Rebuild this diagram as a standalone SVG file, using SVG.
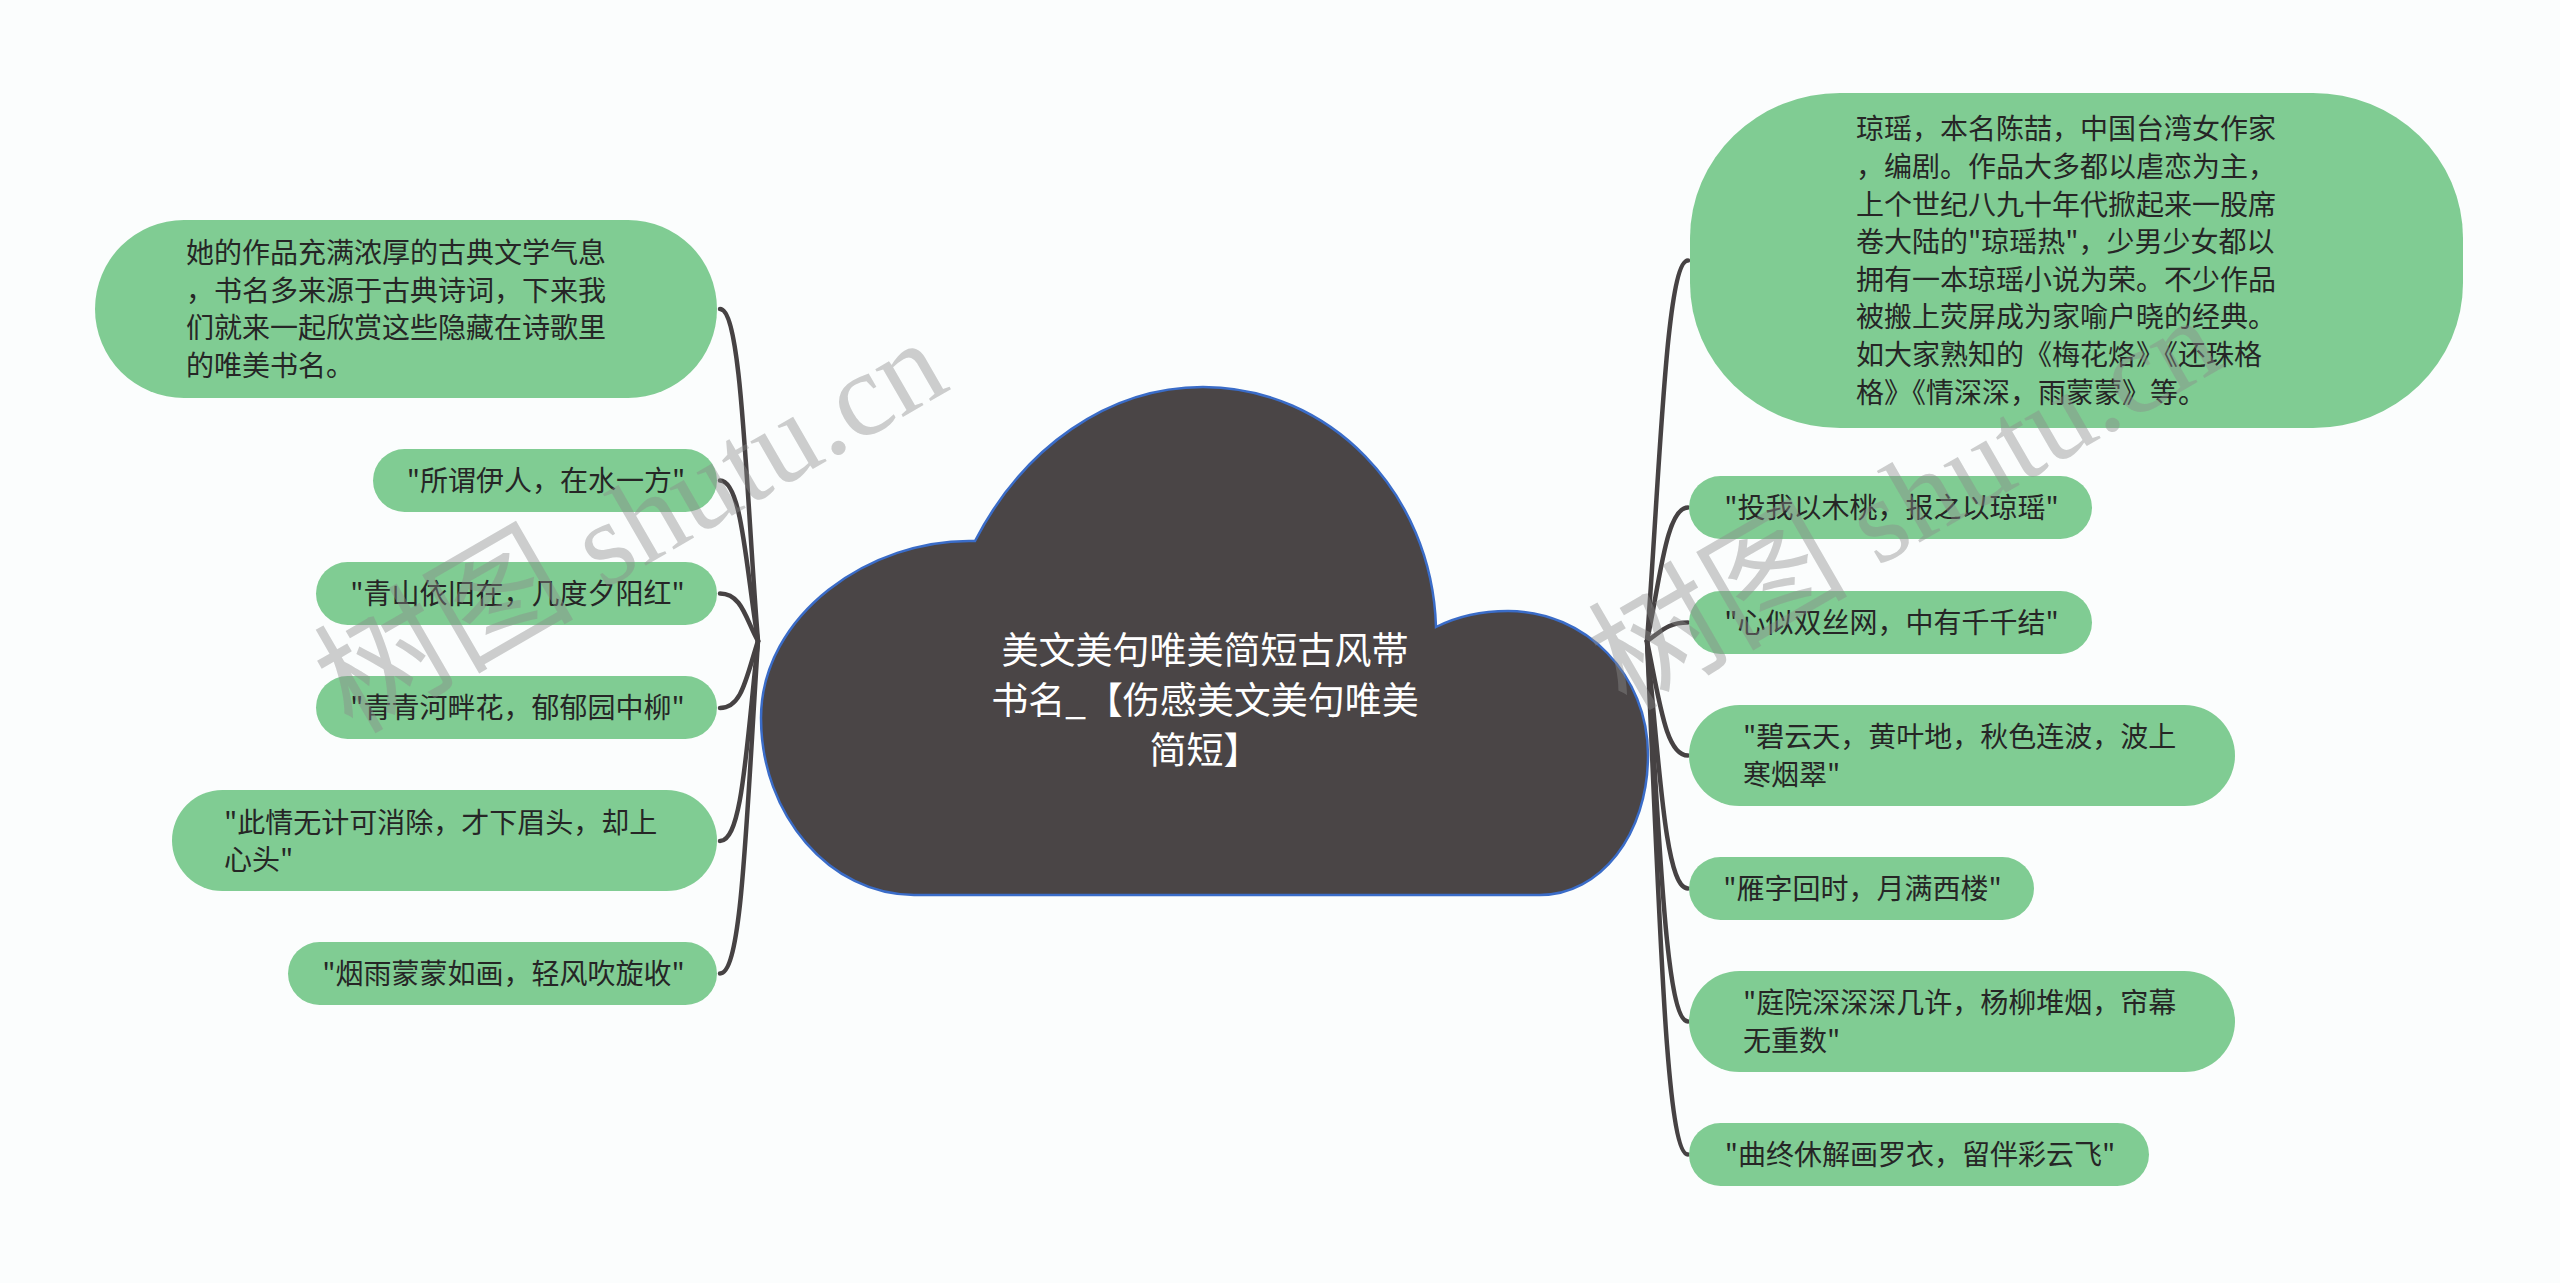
<svg xmlns="http://www.w3.org/2000/svg" width="2560" height="1283" viewBox="0 0 2560 1283">
<style>
.bg{fill:#fbfdfd}
.node{fill:#80cc93}
.t{font-family:"Noto Sans CJK SC","Noto Sans",sans-serif;font-size:28px;fill:#262626}
.c{text-anchor:middle}
.ct{font-family:"Noto Sans CJK SC","Noto Sans",sans-serif;font-size:37px;fill:#ffffff;text-anchor:middle}
.link{fill:none;stroke:#464243;stroke-width:4.5;stroke-linecap:round}
.wm{font-family:"Liberation Serif","Noto Sans CJK SC",serif;font-size:120px;fill:#8a8a8a;fill-opacity:0.42}
.wmc{font-size:130px}
</style>
<rect class="bg" x="0" y="0" width="2560" height="1283"/>

<g id="connectors">
<path class="link" d="M720 309 C742 309,746 492,758 641"/>
<path class="link" d="M720 480.5 C742 480.5,746 569,758 641"/>
<path class="link" d="M720 593.5 C742 593.5,746 620,758 641"/>
<path class="link" d="M720 708 C742 708,746 678,758 641"/>
<path class="link" d="M720 841 C742 841,746 751,758 641"/>
<path class="link" d="M720 973.5 C742 973.5,746 824,758 641"/>
<path class="link" d="M1688 260.5 C1666 260.5,1660 470,1647 641"/>
<path class="link" d="M1688 507.5 C1666 507.5,1660 581,1647 641"/>
<path class="link" d="M1688 622.5 C1666 622.5,1660 633,1647 641"/>
<path class="link" d="M1688 755.5 C1666 755.5,1660 704,1647 641"/>
<path class="link" d="M1688 888.5 C1666 888.5,1660 777,1647 641"/>
<path class="link" d="M1688 1021.5 C1666 1021.5,1660 850,1647 641"/>
<path class="link" d="M1688 1154.5 C1666 1154.5,1660 923,1647 641"/>
</g>

<g id="center">
<path d="M914 895 L1540 895 C1600 895,1648 835,1648 755 C1648 675,1586 611,1508 611 C1482 611,1456 617,1436 627 C1432 492,1329 387,1203 387 C1108 387,1023 448,975 541 C870 538,761 615,761 718 C761 815,830 895,914 895 Z" fill="#4a4546" stroke="#3a6cc8" stroke-width="2.5"/>
<text class="ct" x="1205" y="664">美文美句唯美简短古风帯</text>
<text class="ct" x="1205" y="714">书名_【伤感美文美句唯美</text>
<text class="ct" x="1205" y="764">简短】</text>
</g>

<g id="L1">
<rect class="node" x="95" y="220" width="622" height="178" rx="89"/>
<text class="t" x="186" y="263">她的作品充满浓厚的古典文学气息</text>
<text class="t" x="186" y="300.6">，书名多来源于古典诗词，下来我</text>
<text class="t" x="186" y="338.2">们就来一起欣赏这些隐藏在诗歌里</text>
<text class="t" x="186" y="375.8">的唯美书名。</text>
</g>
<g id="L2">
<rect class="node" x="373" y="449" width="344" height="63" rx="31.5"/>
<text class="t c" x="546" y="491">"所谓伊人，在水一方"</text>
</g>
<g id="L3">
<rect class="node" x="316" y="562" width="401" height="63" rx="31.5"/>
<text class="t c" x="517.5" y="604">"青山依旧在，几度夕阳红"</text>
</g>
<g id="L4">
<rect class="node" x="316" y="676" width="401" height="63" rx="31.5"/>
<text class="t c" x="517.5" y="718">"青青河畔花，郁郁园中柳"</text>
</g>
<g id="L5">
<rect class="node" x="172" y="790" width="545" height="101" rx="50.5"/>
<text class="t" x="224" y="832.7">"此情无计可消除，才下眉头，却上</text>
<text class="t" x="224" y="870.3">心头"</text>
</g>
<g id="L6">
<rect class="node" x="288" y="942" width="429" height="63" rx="31.5"/>
<text class="t c" x="503.5" y="984">"烟雨蒙蒙如画，轻风吹旋收"</text>
</g>

<g id="R1">
<rect class="node" x="1690" y="93" width="773" height="335" rx="150" ry="145"/>
<text class="t" x="1856" y="139.4">琼瑶，本名陈喆，中国台湾女作家</text>
<text class="t" x="1856" y="177">，编剧。作品大多都以虐恋为主，</text>
<text class="t" x="1856" y="214.6">上个世纪八九十年代掀起来一股席</text>
<text class="t" x="1856" y="252.2">卷大陆的"琼瑶热"，少男少女都以</text>
<text class="t" x="1856" y="289.8">拥有一本琼瑶小说为荣。不少作品</text>
<text class="t" x="1856" y="327.4">被搬上荧屏成为家喻户晓的经典。</text>
<text class="t" x="1856" y="365">如大家熟知的《梅花烙》《还珠格</text>
<text class="t" x="1856" y="402.6">格》《情深深，雨蒙蒙》等。</text>
</g>
<g id="R2">
<rect class="node" x="1689" y="476" width="403" height="63" rx="31.5"/>
<text class="t c" x="1891.5" y="518">"投我以木桃，报之以琼瑶"</text>
</g>
<g id="R3">
<rect class="node" x="1689" y="591" width="403" height="63" rx="31.5"/>
<text class="t c" x="1891.5" y="633">"心似双丝网，中有千千结"</text>
</g>
<g id="R4">
<rect class="node" x="1689" y="705" width="546" height="101" rx="50.5"/>
<text class="t" x="1743" y="747.2">"碧云天，黄叶地，秋色连波，波上</text>
<text class="t" x="1743" y="784.8">寒烟翠"</text>
</g>
<g id="R5">
<rect class="node" x="1689" y="857" width="345" height="63" rx="31.5"/>
<text class="t c" x="1862.5" y="899">"雁字回时，月满西楼"</text>
</g>
<g id="R6">
<rect class="node" x="1689" y="971" width="546" height="101" rx="50.5"/>
<text class="t" x="1743" y="1013.2">"庭院深深深几许，杨柳堆烟，帘幕</text>
<text class="t" x="1743" y="1050.8">无重数"</text>
</g>
<g id="R7">
<rect class="node" x="1689" y="1123" width="460" height="63" rx="31.5"/>
<text class="t c" x="1920" y="1165">"曲终休解画罗衣，留伴彩云飞"</text>
</g>

<g id="watermark">
<text class="wm" x="352" y="735" transform="rotate(-30 352 735)"><tspan class="wmc">树图</tspan> shutu.cn</text>
<text class="wm" x="1626" y="712" transform="rotate(-30 1626 712)"><tspan class="wmc">树图</tspan> shutu.cn</text>
</g>
</svg>
